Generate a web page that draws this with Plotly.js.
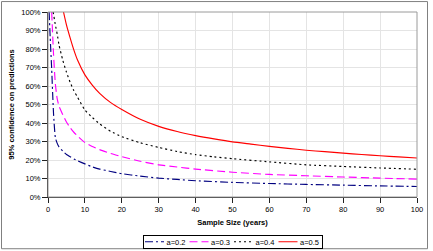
<!DOCTYPE html>
<html>
<head>
<meta charset="utf-8">
<script src="https://cdn.plot.ly/plotly-3.0.1.min.js"></script>
<style>
html,body{margin:0;padding:0;background:#fff;}
#chart{width:433px;height:251px;}
</style>
</head>
<body>
<div id="chart"></div>
<script>
// a=0.2
var x_a02 = [0.3, 0.6, 1, 1.5, 2, 2.5, 3, 4, 5, 6, 7, 8, 10, 12, 14, 17, 20, 25, 30, 35, 40, 50, 60, 70, 80, 90, 100];
var y_a02 = [100, 86, 69, 45, 32, 29, 27, 24.8, 23, 21.8, 20.6, 19.6, 17.9, 16.3, 15.1, 13.8, 12.6, 11.3, 10.2, 9.5, 8.8, 7.9, 7.3, 6.8, 6.4, 6.0, 5.7];
// a=0.3
var x_a03 = [1, 1.5, 2, 2.5, 3, 4, 5, 6, 7, 8, 10, 12, 14, 17, 20, 25, 30, 35, 40, 50, 60, 70, 80, 90, 100];
var y_a03 = [100, 77, 61, 53, 49, 44.5, 40.5, 37.5, 35, 33, 29.5, 27.3, 25.6, 23.5, 21.8, 19.3, 17.4, 16.2, 15.1, 13.4, 12.2, 11.5, 10.8, 10.2, 9.7];
// a=0.4
var x_a04 = [1.4, 2, 2.5, 3, 4, 5, 6, 7, 8, 10, 12, 14, 17, 20, 25, 30, 35, 40, 45, 50, 60, 70, 80, 90, 100];
var y_a04 = [100, 93, 88, 82, 74, 67.5, 62, 57.5, 54, 47, 43, 39.5, 35.5, 32.6, 29.3, 26.8, 24.6, 22.9, 21.7, 20.7, 19.0, 17.4, 16.5, 15.7, 15.0];
// a=0.5
var x_a05 = [4.2, 5, 6, 7, 8, 10, 12, 14, 17, 20, 25, 30, 35, 40, 45, 50, 55, 60, 65, 70, 75, 80, 85, 90, 95, 100];
var y_a05 = [100, 93, 86, 79.5, 74, 66, 60.5, 56, 51, 47.3, 42, 38.2, 35.4, 33.2, 31.4, 29.8, 28.6, 27.4, 26.3, 25.3, 24.5, 23.7, 23.0, 22.3, 21.7, 21.1];

var seriesNames = ['a=0.2', 'a=0.3', 'a=0.4', 'a=0.5'];
var xTicks = [0, 10, 20, 30, 40, 50, 60, 70, 80, 90, 100];
var yTicks = [0, 10, 20, 30, 40, 50, 60, 70, 80, 90, 100];

var FONT = '"Liberation Sans", Arial, sans-serif';

function tr(x, y, name, color, dash) {
  return {
    x: x, y: y, name: name, type: 'scatter', mode: 'lines',
    line: {color: color, width: 1.15, dash: dash, shape: 'spline', smoothing: 0.5},
    hoverinfo: 'skip'
  };
}

var data = [
  tr(x_a02, y_a02, seriesNames[0], '#000080', '8px,3px,2px,3px'),
  tr(x_a03, y_a03, seriesNames[1], '#FF00FF', '8px,4px'),
  tr(x_a04, y_a04, seriesNames[2], '#000000', '2px,3px'),
  tr(x_a05, y_a05, seriesNames[3], '#FF0000', 'solid')
];

var W = 433, H = 251, L = 48, R = 16, T = 11.5, B = 53.5;
var pw = W - L - R, ph = H - T - B;
function px2x(p) { return (p - L) / pw; }
function py2y(p) { return (H - B - p) / ph; }

var layout = {
  width: W, height: H,
  margin: {l: L, r: R, t: T, b: B, pad: 0, autoexpand: false},
  paper_bgcolor: '#ffffff',
  plot_bgcolor: '#ffffff',
  font: {family: FONT, size: 7.5, color: '#000'},
  showlegend: true,
  xaxis: {
    range: [0, 100], automargin: true,
    tickvals: xTicks,
    ticktext: xTicks.map(String),
    showgrid: true, gridcolor: '#e4e4e4', gridwidth: 1,
    zeroline: false,
    showline: true, linecolor: '#222', linewidth: 1,
    ticks: 'outside', ticklen: 5, tickcolor: '#222',
    tickfont: {family: FONT, size: 7.5, color: '#000'},
    title: {text: 'Sample Size (years)', standoff: 6, font: {family: FONT, size: 7.5, color: '#000', weight: 'bold'}}
  },
  yaxis: {
    range: [0, 100], automargin: true,
    tickvals: yTicks,
    ticktext: yTicks.map(function (v) { return v + '%'; }),
    showgrid: true, gridcolor: '#e4e4e4', gridwidth: 1,
    zeroline: false,
    showline: true, linecolor: '#222', linewidth: 1,
    ticks: 'outside', ticklen: 5, tickcolor: '#222',
    tickfont: {family: FONT, size: 7.5, color: '#000'},
    title: {text: '95% confidence on predictions', standoff: 5, font: {family: FONT, size: 7.5, color: '#000', weight: 'bold'}}
  },
  legend: {
    orientation: 'h',
    xref: 'container', yref: 'container',
    x: 232.5 / W, xanchor: 'center',
    y: 1 - 235.5 / H, yanchor: 'top',
    bordercolor: '#000', borderwidth: 1, bgcolor: '#fff',
    font: {family: FONT, size: 7.5, color: '#000'},
    itemwidth: 30, tracegroupgap: 0
  },
  shapes: [
    {type: 'rect', xref: 'paper', yref: 'paper', x0: 0, x1: 1, y0: 0, y1: 1,
     line: {color: '#9a9a9a', width: 1}, layer: 'above'},
    {type: 'rect', xref: 'paper', yref: 'paper',
     x0: px2x(1.5), x1: px2x(427.5), y0: py2y(249.5), y1: py2y(1),
     line: {color: '#808080', width: 1}, layer: 'below'}
  ]
};

// Compact the legend to the reference's tighter layout (short line samples).
function compactLegend(gd) {
  var leg = gd.querySelector('g.legend');
  if (!leg) return;
  var items = leg.querySelectorAll('g.traces');
  var step = 44.5, lineLen = 19, boxW = 179, boxH = 12.5;
  items.forEach(function (g, i) {
    g.setAttribute('transform', 'translate(' + (2 + i * step) + ',' + (boxH / 2) + ')');
    g.querySelectorAll('g.legendlines path').forEach(function (p) {
      p.setAttribute('d', 'M0,0h' + lineLen);
    });
    var t = g.querySelector('text.legendtext');
    if (t) t.setAttribute('x', lineLen + 2.5);
    var r = g.querySelector('rect.legendtoggle');
    if (r) r.setAttribute('width', step);
  });
  var bg = leg.querySelector('rect.bg');
  if (bg) {
    bg.setAttribute('width', boxW);
    bg.setAttribute('height', boxH);
    bg.setAttribute('x', 0);
    bg.setAttribute('y', 0);
  }
  leg.setAttribute('transform', 'translate(143,235.5)');
}

Plotly.newPlot('chart', data, layout, {staticPlot: true, displayModeBar: false}).then(compactLegend);
</script>
</body>
</html>
